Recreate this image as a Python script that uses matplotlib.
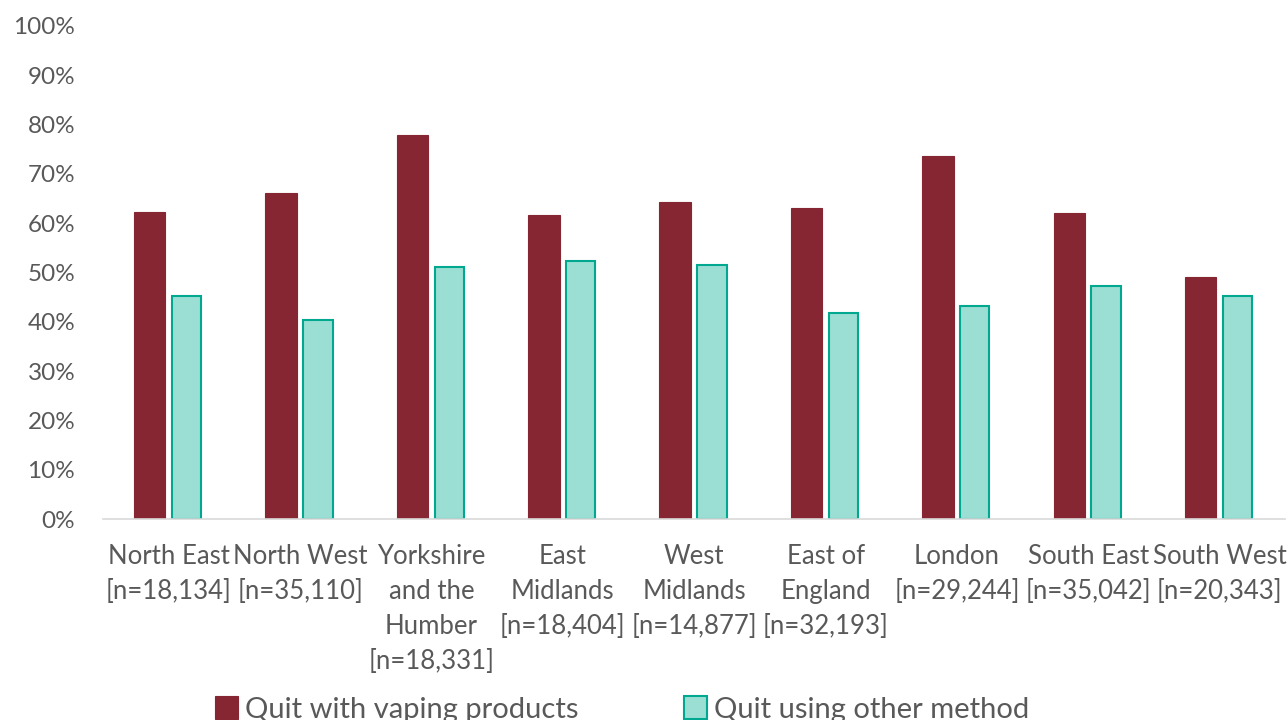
import matplotlib.pyplot as plt
import numpy as np
from matplotlib.ticker import PercentFormatter

# data
regions = ['North East\n[n=18,134]', 'North West\n[n=35,110]',
           'Yorkshire\nand the\nHumber\n[n=18,331]', 'East\nMidlands\n[n=18,404]',
           'West\nMidlands\n[n=14,877]', 'East of\nEngland\n[n=32,193]',
           'London\n[n=29,244]', 'South East\n[n=35,042]', 'South West\n[n=20,343]']
vaping = [62.3, 66.2, 77.9, 61.6, 64.2, 63.1, 73.7, 62.0, 49.0]
other = [45.3, 40.3, 51.1, 52.4, 51.6, 41.8, 43.2, 47.2, 45.3]
series_names = ['Quit with vaping products', 'Quit using other method']

plt.rcParams['font.family'] = ['Lato', 'DejaVu Sans']
grey = '#595959'

fig = plt.figure(figsize=(12.88, 7.2), dpi=100)
ax = fig.add_axes([0.080, 0.279, 0.918, 0.685])

x = np.arange(len(regions))
w = 0.24
ax.bar(x - 0.145, vaping, width=w, color='#862633', edgecolor='#862633',
       linewidth=0.8, label=series_names[0])
ax.bar(x + 0.135, other, width=w * 0.93, color='#9BDED3', edgecolor='#00A88F',
       linewidth=1.5, label=series_names[1])

ax.set_ylim(0, 100)
ax.set_xlim(-0.5, len(regions) - 0.5)
ax.set_yticks(np.arange(0, 101, 10))
ax.yaxis.set_major_formatter(PercentFormatter(decimals=0))
ax.set_xticks(x)
ax.set_xticklabels(regions, linespacing=1.5)
ax.tick_params(axis='y', length=0, labelsize=17.5, labelcolor=grey, pad=20)
ax.tick_params(axis='x', length=0, labelsize=18.5, labelcolor=grey, pad=18)
for t in ax.get_xticklabels():
    t.set_verticalalignment('top')

for s in ['top', 'right', 'left']:
    ax.spines[s].set_visible(False)
ax.spines['bottom'].set_color('#d9d9d9')
ax.spines['bottom'].set_linewidth(1.2)

leg = fig.legend(loc='lower center', bbox_to_anchor=(0.483, -0.04), ncol=2,
                 frameon=False, fontsize=21, handlelength=0.8, handleheight=0.8,
                 handletextpad=0.25, columnspacing=3.6, labelcolor=grey)

plt.savefig('out.png', dpi=100)
plt.close()
